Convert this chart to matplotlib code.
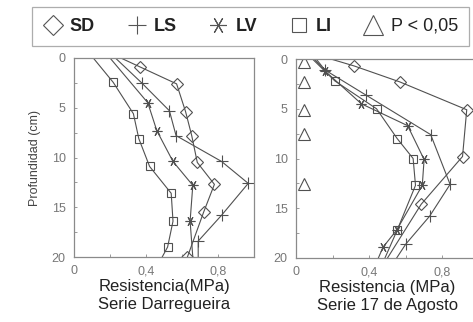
import matplotlib
matplotlib.use("Agg")
import matplotlib.pyplot as plt
from matplotlib.lines import Line2D

plt.rcParams['font.family'] = ['Liberation Sans', 'DejaVu Sans']

# ---- Data: Serie Darregueira (left) ----
d_sd_x = [0.26, 0.367, 0.57, 0.62, 0.654, 0.685, 0.78, 0.72, 0.63]
d_sd_y = [0, 0.9, 2.6, 5.4, 7.8, 10.5, 12.7, 15.5, 20]
d_ls_x = [0.23, 0.376, 0.53, 0.567, 0.82, 0.968, 0.82, 0.69, 0.69]
d_ls_y = [0, 2.5, 5.3, 7.8, 10.4, 12.6, 15.8, 18.4, 20]
d_lv_x = [0.20, 0.41, 0.46, 0.55, 0.66, 0.645, 0.66]
d_lv_y = [0, 4.5, 7.3, 10.4, 12.8, 16.4, 20]
d_li_x = [0.107, 0.218, 0.33, 0.36, 0.42, 0.54, 0.55, 0.52, 0.49]
d_li_y = [0, 2.45, 5.6, 8.1, 10.9, 13.6, 16.4, 19.0, 20]

# ---- Data: Serie 17 de Agosto (right) ----
a_sd_x = [0.19, 0.318, 0.567, 0.933, 0.91, 0.684, 0.50]
a_sd_y = [0, 0.7, 2.3, 5.1, 9.8, 14.6, 20]
a_ls_x = [0.11, 0.158, 0.38, 0.736, 0.842, 0.73, 0.60, 0.55]
a_ls_y = [0, 1.1, 3.6, 7.6, 12.6, 15.8, 18.6, 20]
a_lv_x = [0.10, 0.158, 0.357, 0.61, 0.70, 0.69, 0.55, 0.476, 0.45]
a_lv_y = [0, 1.2, 4.5, 6.7, 10.1, 12.7, 17.2, 18.9, 20]
a_li_x = [0.09, 0.212, 0.44, 0.553, 0.64, 0.653, 0.553, 0.486]
a_li_y = [0, 2.2, 5.0, 8.0, 10.0, 12.7, 17.2, 20]
sig_x = [0.042, 0.042, 0.042, 0.042, 0.042]
sig_y = [0.3, 2.3, 5.1, 7.5, 12.6]

x_ticks = [0, 0.2, 0.4, 0.6, 0.8, 1.0]
x_labels = ['0', '', '0,4', '', '0,8', '']
y_ticks = [0, 2.5, 5, 7.5, 10, 12.5, 15, 17.5, 20]
y_labels = ['0', '', '5', '', '10', '', '15', '', '20']

LC = '#505050'
SC = '#8a8a8a'
lv_marker = (6, 2, 30)

fig = plt.figure(figsize=(4.73, 3.22), dpi=100)
ax1 = fig.add_axes([74/473, 65/322, 180/473, 199/322])
ax2 = fig.add_axes([296/473, 64/322, 183/473, 199/322])

def draw(ax, series, panel_title, xlabel):
    for (x, y, m, ms, i0, i1) in series:
        ax.plot(x, y, color=LC, lw=0.8)
        ax.plot(x[i0:i1], y[i0:i1], linestyle='none', marker=m, markersize=ms,
                markerfacecolor='none', markeredgecolor=LC, markeredgewidth=0.8)
    ax.set_xlim(0, 1.0)
    ax.set_ylim(20, 0)
    ax.set_xticks(x_ticks)
    ax.set_xticklabels(x_labels)
    ax.set_yticks(y_ticks)
    ax.set_yticklabels(y_labels)
    ax.tick_params(direction='in', length=2.5, width=0.6, colors=SC,
                   labelsize=9, labelcolor='#777777', pad=6)
    for s in ax.spines.values():
        s.set_color(SC)
        s.set_linewidth(0.9)
    ax.set_xlabel(xlabel + '\n' + panel_title, fontsize=12, color='#222222',
                  labelpad=1, linespacing=1.25)

series_left = [
    (d_sd_x, d_sd_y, 'D', 6, 1, None),
    (d_ls_x, d_ls_y, '+', 8, 1, -1),
    (d_lv_x, d_lv_y, lv_marker, 7, 1, -1),
    (d_li_x, d_li_y, 's', 6, 1, -1),
]
series_right = [
    (a_sd_x, a_sd_y, 'D', 6, 1, -1),
    (a_ls_x, a_ls_y, '+', 9, 1, -1),
    (a_lv_x, a_lv_y, lv_marker, 7, 1, -1),
    (a_li_x, a_li_y, 's', 6, 1, -1),
]

draw(ax1, series_left, 'Serie Darregueira', 'Resistencia(MPa)')
draw(ax2, series_right, 'Serie 17 de Agosto', 'Resistencia (MPa)')
ax2.plot(sig_x, sig_y, linestyle='none', marker='^', markersize=8,
         markerfacecolor='none', markeredgecolor=LC, markeredgewidth=0.8)

ax1.set_ylabel('Profundidad (cm)', fontsize=9, color='#444444', labelpad=8)

HC = '#555555'
handles = [
    Line2D([], [], linestyle='none', marker='D', markersize=10, markerfacecolor='none', markeredgecolor=HC, markeredgewidth=0.8),
    Line2D([], [], linestyle='none', marker='+', markersize=13, markeredgecolor=HC, markeredgewidth=0.8),
    Line2D([], [], linestyle='none', marker=lv_marker, markersize=12, markeredgecolor=HC, markeredgewidth=0.8),
    Line2D([], [], linestyle='none', marker='s', markersize=10, markerfacecolor='none', markeredgecolor=HC, markeredgewidth=0.8),
    Line2D([], [], linestyle='none', marker='^', markersize=15, markerfacecolor='none', markeredgecolor=HC, markeredgewidth=0.8),
]
labels = ['SD', 'LS', 'LV', 'LI', 'P < 0,05']
leg = fig.legend(handles, labels, ncol=5, loc='upper left',
                 bbox_to_anchor=(32/473, 1 - 7/322), frameon=True, fancybox=False,
                 edgecolor='#999999', fontsize=13, handlelength=1.1,
                 handletextpad=0.4, columnspacing=1.75, borderpad=0.6,
                 borderaxespad=0)
leg.get_frame().set_linewidth(0.9)
for i, t in enumerate(leg.get_texts()):
    t.set_color('#222222')
    if i < 4:
        t.set_fontweight('bold')

fig.savefig('out.png', dpi=100, facecolor='white')
